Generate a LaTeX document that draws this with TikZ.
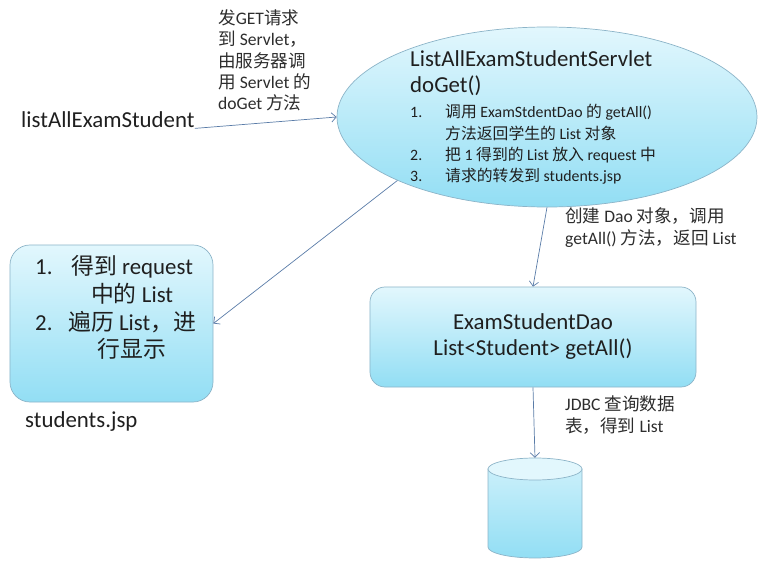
\documentclass[tikz,border=0pt]{standalone}
\usepackage{fontspec}
\setmainfont{Carlito}
\newfontfamily\cjk{Noto Sans CJK SC}
\newcommand\zh[1]{{\cjk #1}}
\usepackage{tikz}
\usetikzlibrary{positioning,shapes.geometric,arrows.meta}
\definecolor{boxtop}{RGB}{226,247,253}
\definecolor{boxbot}{RGB}{146,222,244}
\definecolor{boxline}{RGB}{140,180,200}
\definecolor{arrline}{RGB}{90,124,168}
\definecolor{lbltext}{RGB}{45,45,45}

\begin{document}
\begin{tikzpicture}[x=0.03cm, y=-0.03cm,
    bigtxt/.style={font=\fontsize{19.5}{22.2}\selectfont, text=black!88, inner sep=0pt},
    smalltxt/.style={font=\fontsize{15}{18.3}\selectfont, text=lbltext, align=left, inner sep=0pt},
    listtxt/.style={font=\fontsize{13.5}{18}\selectfont, text=black!88, inner sep=0pt},
    shaded/.style={draw=boxline, line width=0.6pt, top color=boxtop, bottom color=boxbot},
    pagebox/.style={shaded, rounded corners=0.6cm, minimum width=6.09cm, minimum height=4.71cm},
    daobox/.style={shaded, rounded corners=0.45cm, minimum width=9.78cm, minimum height=3cm, align=center},
    link/.style={draw=arrline, line width=0.6pt, -{Straight Barb[length=4pt,width=8pt]}}]
    \useasboundingbox (0,0) rectangle (772,566);

    \node[shaded, ellipse, minimum width=12.6cm, minimum height=5.4cm] (srv) at (547,117) {};
    \node[pagebox] (jsp) at (111.5,323.5) {};
    \node[daobox, bigtxt, inner sep=2pt, font=\fontsize{19.5}{22.2}\selectfont] (dao) at (533,337)
        {ExamStudentDao\\List<Student> getAll()};
    \node[inner sep=0pt, minimum width=2.82cm, minimum height=3cm] (db) at (535,508) {};
    \path[shaded, top color=boxtop!70!boxbot] (488,469) -- (488,547) arc[start angle=180, end angle=0, x radius=47, y radius=11]
        -- (582,469) -- cycle;
    \draw[draw=boxline, line width=0.6pt, fill=boxtop] (535,469) ellipse[x radius=47, y radius=11];

    \node[bigtxt, anchor=base west] (start) at (21,128) {listAllExamStudent};
    \node[bigtxt, align=left, anchor=base west] (srvtitle) at (410,93) {ListAllExamStudentServlet\\doGet()};
    \node[listtxt, anchor=base west] (srvlist) at (410,118) {\begin{tabular}[t]{@{}p{1.05cm}@{}l@{}}
        1. & \zh{调用} ExamStdentDao \zh{的} getAll()\\
           & \zh{方法返回学生的} List \zh{对象}\\
        2. & \zh{把} 1 \zh{得到的} List \zh{放入} request \zh{中}\\
        3. & \zh{请求的转发到} students.jsp
    \end{tabular}};
    \node[bigtxt, font=\fontsize{19.5}{23.5}\selectfont, anchor=base west] (jsptxt) at (35,275) {\begin{tabular}[t]{@{}p{0.99cm}@{}c@{}}
        1. & \zh{得到} request\\
           & \zh{中的} List\\
        2. & \zh{遍历} List\zh{，进}\\
           & \zh{行显示}
    \end{tabular}};
    \node[bigtxt, anchor=base west] (jspname) at (25,427) {students.jsp};

    \node[smalltxt, anchor=base west] (getlbl) at (218,110)
        {\zh{发}GET\zh{请求}\\\zh{到} Servlet\zh{，}\\\zh{由服务器调}\\\zh{用} Servlet \zh{的}\\doGet \zh{方法}};
    \node[smalltxt, font=\fontsize{15}{18.8}\selectfont, anchor=base west] (createlbl) at (565,245)
        {\zh{创建} Dao \zh{对象，调用}\\getAll() \zh{方法，返回} List};
    \node[smalltxt, font=\fontsize{15}{18}\selectfont, anchor=base west] (jdbclbl) at (565,432)
        {JDBC \zh{查询数据}\\\zh{表，得到} List};

    \draw[link] (start.south east) -- (srv.west);
    \draw[link] (srv.203) -- (jsp.east);
    \draw[link] (srv.south) -- (dao.north);
    \draw[link] (dao.south) -- (db.north);
\end{tikzpicture}
\end{document}
